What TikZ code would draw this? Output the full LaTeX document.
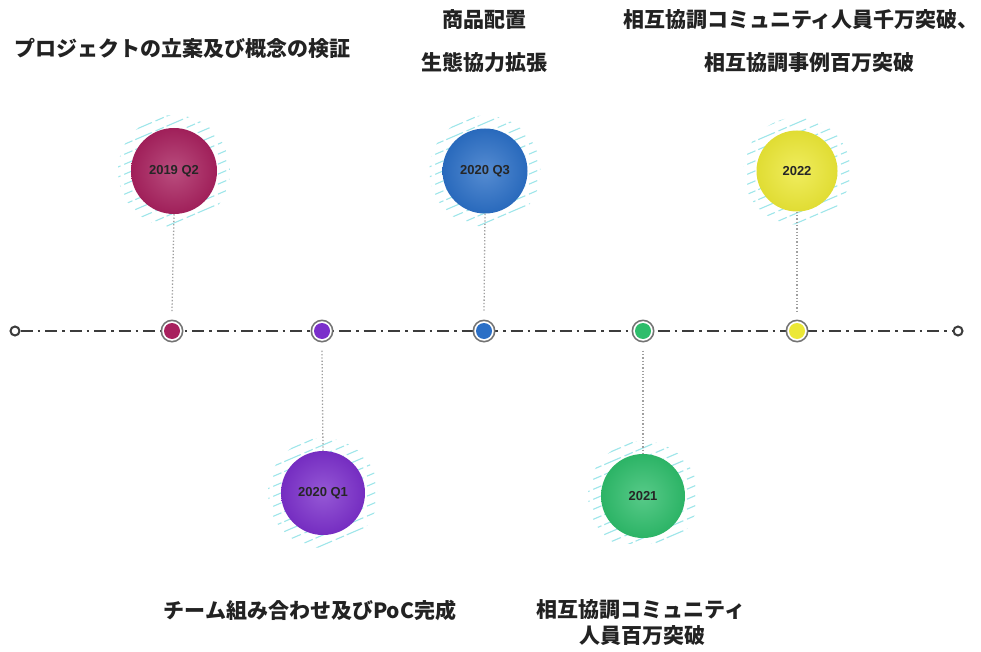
\documentclass[tikz,border=0pt]{standalone}
\usepackage{fontspec}
\newfontfamily\jp{Noto Sans CJK JP}
\newfontfamily\lab{Liberation Sans}
\usetikzlibrary{calc}
\definecolor{cMaroon}{HTML}{A8215E}
\definecolor{cPurple}{HTML}{7B2FCB}
\definecolor{cBlue}{HTML}{2B6FC6}
\definecolor{cGreen}{HTML}{2EBD6B}
\definecolor{cYellow}{HTML}{ECE836}
\definecolor{cHatch}{HTML}{9EE6EA}
\definecolor{cLine}{HTML}{3C3C3C}
\definecolor{cText}{HTML}{222222}
\tikzset{
  title/.style={font=\jp\bfseries\fontsize{21}{24}\selectfont, text=cText, inner sep=0pt, anchor=center},
  balllabel/.style={font=\lab\bfseries\fontsize{13}{15}\selectfont, text=black!85},
  hatchline/.style={cHatch, line width=1.1pt, dash pattern=on 18pt off 4pt on 9pt off 3pt},
  axis/.style={cLine, line width=2pt, dash pattern=on 12pt off 5pt on 2.5pt off 5pt},
  conn/.style={gray!75, line width=1.3pt, dotted},
  endpt/.style={circle, draw=cLine, line width=2pt, fill=white, minimum size=9pt, inner sep=0pt},
}
\newcommand{\hatchball}[5]{% name, x, y, radius, color
  \begin{scope}
    \clip (#2,#3) circle (#4+13);
    \foreach \k in {-88,-78,...,88}
      \draw[hatchline] (#2-70,#3+\k+30) -- (#2+70,#3+\k-30);
  \end{scope}
  \shade[inner color=#5!80!white, outer color=#5!95!black] (#2,#3) circle (#4);
  \node[balllabel, circle, minimum size=2*#4, inner sep=0pt] (#1) at (#2,#3) {};
}
\newcommand{\tdot}[4]{% name, x, y, color
  \fill[gray!90!black] (#2,#3) circle (11.5);
  \fill[white] (#2,#3) circle (9.8);
  \node[circle, fill=#4, minimum size=16pt, inner sep=0pt] (#1) at (#2,#3) {};
}
\begin{document}
\begin{tikzpicture}[x=1pt,y=-1pt]
\useasboundingbox (0,0) rectangle (981,652);
\fill[white] (0,0) rectangle (981,652);

% timeline
\node[endpt] (L) at (15,331) {};
\node[endpt] (R) at (958,331) {};
\draw[axis] (L.east) -- (R.west);

% hatched balls
\hatchball{b1}{174}{171}{43}{cMaroon}
\hatchball{b3}{485}{171}{42.5}{cBlue}
\hatchball{b5}{797}{171}{40.5}{cYellow}
\hatchball{b2}{323}{493}{42}{cPurple}
\begin{scope}
  \clip (500,380) rectangle (800,543);
  \hatchball{b4}{643}{496}{42}{cGreen}
\end{scope}

\node[balllabel] at (b1) {2019 Q2};
\node[balllabel] at (b3) {2020 Q3};
\node[balllabel] at (b5) {2022};
\node[balllabel] at (b2) {2020 Q1};
\node[balllabel] at (b4) {2021};

% dots on timeline
\tdot{d1}{172}{331}{cMaroon}
\tdot{d2}{322}{331}{cPurple}
\tdot{d3}{484}{331}{cBlue}
\tdot{d4}{643}{331}{cGreen}
\tdot{d5}{797}{331}{cYellow}

% connectors
\draw[conn] (b1.south) -- ([yshift=11.5pt]d1.north);
\draw[conn] (b3.south) -- ([yshift=11.5pt]d3.north);
\draw[conn] (b5.south) -- ([yshift=11.5pt]d5.north);
\draw[conn] ([yshift=-11.5pt]d2.south) -- (b2.north);
\draw[conn] ([yshift=-11.5pt]d4.south) -- (b4.north);

% titles
\node[title] (t1) at (182,48) {プロジェクトの立案及び概念の検証};
\node[title] (t2a) at (484,20) {商品配置};
\node[title] (t2b) at (484,63) {生態協力拡張};
\node[title] (t3a) at (801,20) {相互協調コミュニティ人員千万突破、};
\node[title] (t3b) at (809,63) {相互協調事例百万突破};
\node[title] (t4) at (310,610) {チーム組み合わせ及びPoC完成};
\node[title] (t5a) at (641,610) {相互協調コミュニティ};
\node[title] (t5b) at (642,636) {人員百万突破};
\end{tikzpicture}
\end{document}
